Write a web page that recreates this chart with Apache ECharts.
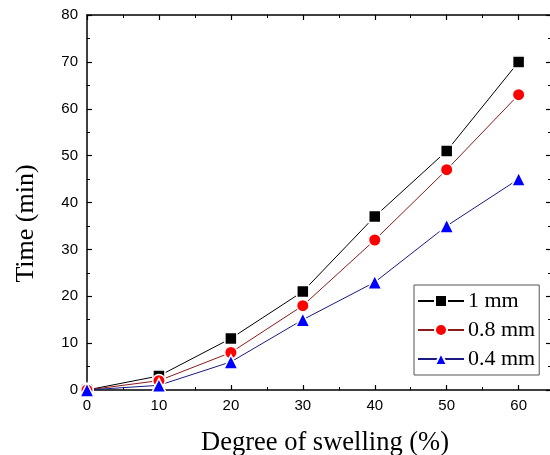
<!DOCTYPE html>
<html><head><meta charset="utf-8">
<script src="https://cdn.jsdelivr.net/npm/echarts@6/dist/echarts.min.js"></script>
<style>html,body{margin:0;padding:0;background:#fff}#c{width:550px;height:455px}</style>
</head><body><div id="c"></div>
<script>
const swelling = [0, 10, 20, 30, 40, 50, 60];
const time1mm  = [0, 3, 11, 21, 37, 51, 70];
const time08mm = [0, 2, 8, 18, 32, 47, 63];
const time04mm = [0, 1, 6, 15, 23, 35, 45];
const seriesNames = ['1 mm', '0.8 mm', '0.4 mm'];
const xTitle = 'Degree of swelling (%)';
const yTitle = 'Time (min)';

const pairs = ys => swelling.map((x, i) => [x, ys[i]]);
const serif = '"Liberation Serif", "Times New Roman", serif';
const sans = '"Liberation Sans", Arial, sans-serif';

const chart = echarts.init(document.getElementById('c'), null, {renderer: 'canvas'});
const axisCommon = {
  axisLine: {show: true, onZero: false, lineStyle: {color: '#000', width: 1.5}},
  axisTick: {show: true, inside: true, length: 5, lineStyle: {color: '#000', width: 1.2}},
  minorTick: {show: true, splitNumber: 2, length: 3, lineStyle: {color: '#000', width: 1}},
  splitLine: {show: false}
};
const mkSeries = (name, data, symbol, size, lineColor, fill) => ({
  name, type: 'line', data: pairs(data), symbol, symbolSize: size,
  lineStyle: {color: lineColor, width: 1},
  itemStyle: {color: fill, borderColor: '#fff', borderWidth: 1.5},
  emphasis: {disabled: true}, clip: false, z: 3
});

chart.setOption({
  animation: false,
  backgroundColor: '#fff',
  grid: {left: 87, top: 15, width: 464, height: 375, containLabel: false, outerBoundsMode: 'none'},
  xAxis: [
    Object.assign({type: 'value', position: 'bottom', min: 0, max: 64.5, interval: 10,
      name: xTitle, nameLocation: 'middle', nameGap: 40,
      nameTextStyle: {fontFamily: serif, fontSize: 26.5, color: '#000', padding: [0, 0, 0, 12]},
      axisLabel: {fontFamily: sans, fontSize: 15, color: '#000', margin: 8, showMaxLabel: false}}, axisCommon),
    Object.assign({type: 'value', position: 'top', min: 0, max: 64.5, interval: 10,
      axisLabel: {show: false}}, axisCommon)
  ],
  yAxis: [
    Object.assign({type: 'value', position: 'left', min: 0, max: 80, interval: 10,
      name: yTitle, nameLocation: 'middle', nameGap: 48, nameRotate: 90,
      nameTextStyle: {fontFamily: serif, fontSize: 26, color: '#000', padding: [0, 42, 0, 0]},
      axisLabel: {fontFamily: sans, fontSize: 15, color: '#000', margin: 9}}, axisCommon),
    Object.assign({type: 'value', position: 'right', min: 0, max: 80, interval: 10,
      axisLabel: {show: false}}, axisCommon)
  ],
  legend: {
    orient: 'vertical', left: 414, top: 285,
    data: seriesNames,
    borderColor: '#555', borderWidth: 1, backgroundColor: '#fff',
    padding: [5, 4, 5, 3], itemGap: 7, itemWidth: 46, itemHeight: 15,
    textStyle: {fontFamily: serif, fontSize: 22, color: '#000', padding: [0, 0, 0, -1]}
  },
  series: [
    mkSeries(seriesNames[0], time1mm, 'rect', 12, '#000', '#000'),
    mkSeries(seriesNames[1], time08mm, 'circle', 12.5, '#8b1a1a', '#ff0000'),
    mkSeries(seriesNames[2], time04mm, 'triangle', 14, '#1a1a80', '#0000ff')
  ]
});
</script></body></html>
